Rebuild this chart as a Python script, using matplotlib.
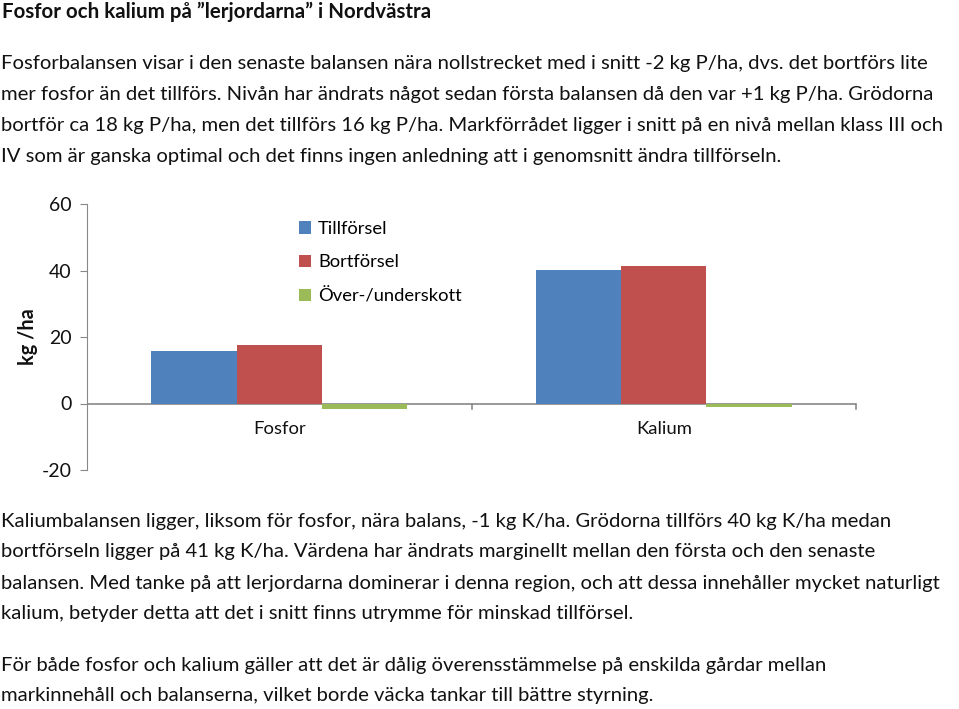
import numpy as np
import matplotlib.pyplot as plt

categories = ["Fosfor", "Kalium"]
series_names = ["Tillförsel", "Bortförsel", "Över-/underskott"]
tillforsel = [15.7, 40.2]
bortforsel = [17.5, 41.4]
overskott = [-1.7, -1.2]
yticks = [-20, 0, 20, 40, 60]

title = "Fosfor och kalium på \u201dlerjordarna\u201d i Nordvästra"
para1 = [
    "Fosforbalansen visar i den senaste balansen nära nollstrecket med i snitt -2 kg P/ha, dvs. det bortförs lite",
    "mer fosfor än det tillförs. Nivån har ändrats något sedan första balansen då den var +1 kg P/ha. Grödorna",
    "bortför ca 18 kg P/ha, men det tillförs 16 kg P/ha. Markförrådet ligger i snitt på en nivå mellan klass III och",
    "IV som är ganska optimal och det finns ingen anledning att i genomsnitt ändra tillförseln.",
]
para2 = [
    "Kaliumbalansen ligger, liksom för fosfor, nära balans, -1 kg K/ha. Grödorna tillförs 40 kg K/ha medan",
    "bortförseln ligger på 41 kg K/ha. Värdena har ändrats marginellt mellan den första och den senaste",
    "balansen. Med tanke på att lerjordarna dominerar i denna region, och att dessa innehåller mycket naturligt",
    "kalium, betyder detta att det i snitt finns utrymme för minskad tillförsel.",
]
para3 = [
    "För både fosfor och kalium gäller att det är dålig överensstämmelse på enskilda gårdar mellan",
    "markinnehåll och balanserna, vilket borde väcka tankar till bättre styrning.",
]

plt.rcParams['font.family'] = ['Lato', 'DejaVu Sans']
W, H = 959, 709
fig = plt.figure(figsize=(W / 100, H / 100), dpi=100)

def px(x, y):
    return x / W, 1 - y / H

fs = 14.6
txt_color = "#111111"
fig.text(*px(2, 12), title, fontsize=14.8, fontweight="bold", va="center", color=txt_color)
for i, line in enumerate(para1):
    fig.text(*px(1, 63 + i * 31.3), line, fontsize=fs, va="center", color=txt_color)
for i, line in enumerate(para2):
    fig.text(*px(1, 521 + i * 31), line, fontsize=fs, va="center", color=txt_color)
for i, line in enumerate(para3):
    fig.text(*px(1, 665 + i * 31), line, fontsize=fs, va="center", color=txt_color)

# chart
l, r, t, b = 87, 856, 204, 470
ax = fig.add_axes([l / W, 1 - b / H, (r - l) / W, (b - t) / H])
colors = ["#4f81bd", "#c0504d", "#9bbb59"]
x = np.arange(len(categories))
bw = 2 / 9
for k, (vals, name) in enumerate(zip([tillforsel, bortforsel, overskott], series_names)):
    ax.bar(x + (k - 1) * bw, vals, width=bw, color=colors[k], label=name)

ax.set_xlim(-0.5, 1.5)
ax.set_ylim(-20, 60)
ax.set_yticks(yticks)
ax.set_yticklabels([str(v) for v in yticks], fontsize=14, color="#111111")
ax.tick_params(axis="y", length=5, color="#888888", pad=6)
ax.set_xticks([])
for s in ["top", "right"]:
    ax.spines[s].set_visible(False)
ax.spines["bottom"].set_visible(False)
ax.spines["left"].set_color("#888888")
ax.axhline(0, color="#888888", lw=1.2, zorder=0)
for xb in [0.5, 1.5]:
    ax.plot([xb, xb], [0, -1.6], color="#888888", lw=1.2, clip_on=False)
for xi, c in zip(x, categories):
    ax.text(xi, -7.8, c, ha="center", va="center", fontsize=13.3, color="#111111")

fig.text(*px(28, 337), "kg /ha", rotation=90, ha="center", va="center",
         fontsize=14.3, fontweight="bold", color=txt_color)

ax.legend(loc="upper left", bbox_to_anchor=((299 - l) / (r - l), (b - 221) / (b - t)),
          frameon=False, fontsize=13.2, handlelength=0.65, handleheight=0.65,
          handletextpad=0.4, labelspacing=0.95, borderaxespad=0, borderpad=0)

fig.savefig("out.png", dpi=100)
